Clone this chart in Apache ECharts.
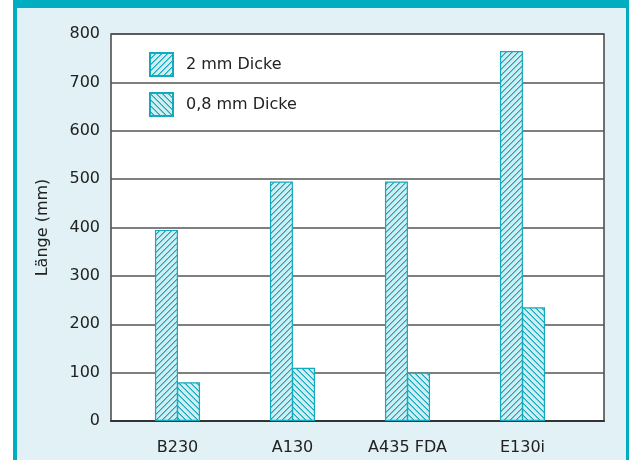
<!DOCTYPE html>
<html><head><meta charset="utf-8">
<script src="https://cdn.jsdelivr.net/npm/echarts@6/dist/echarts.min.js"></script>
<style>html,body{margin:0;padding:0;background:#fff}#c{width:629px;height:460px}</style>
</head><body><div id="c"></div>
<script>
var categories = ['B230', 'A130', 'A435 FDA', 'E130i'];
var seriesNames = ['2 mm Dicke', '0,8 mm Dicke'];
var thick2mm = [395, 495, 495, 765];
var thin08mm = [80, 110, 100, 235];
var yTicks = [0, 100, 200, 300, 400, 500, 600, 700, 800];

var TEAL = '#14aabd', FILL = '#d2edf2';
function hatch(dir) {
  var s = 6, c = document.createElement('canvas');
  c.width = s; c.height = s;
  var g = c.getContext('2d');
  g.fillStyle = FILL; g.fillRect(0, 0, s, s);
  g.fillStyle = TEAL;
  for (var i = 0; i < s; i++) {
    var y = dir > 0 ? (s - 1 - i) : i;
    g.fillRect(i, y, 1, 1);
  }
  g.globalAlpha = 0.55;
  for (var i = 0; i < s; i++) {
    var y = dir > 0 ? (s - i) % s : (i + 1) % s;
    g.fillRect(i, y, 1, 1);
  }
  return c;
}
var pat1 = {image: hatch(1), repeat: 'repeat'};
var pat2 = {image: hatch(-1), repeat: 'repeat'};

var FONT = 'DejaVu Sans';
var chart = echarts.init(document.getElementById('c'), null, {renderer: 'canvas'});
chart.setOption({
  backgroundColor: '#fff',
  animation: false,
  textStyle: {fontFamily: FONT},
  graphic: [
    {type: 'rect', z: -10, shape: {x: 13, y: 0, width: 616, height: 460}, style: {fill: '#e1f1f5'}},
    {type: 'rect', z: -9, shape: {x: 13, y: 0, width: 4, height: 460}, style: {fill: '#00adc1'}},
    {type: 'rect', z: -9, shape: {x: 626, y: 0, width: 3, height: 460}, style: {fill: '#00adc1'}},
    {type: 'rect', z: -9, shape: {x: 13, y: 0, width: 616, height: 8}, style: {fill: '#00adc1'}}
  ],
  legend: {
    orient: 'vertical', left: 149, top: 52, padding: 0,
    itemWidth: 23, itemHeight: 23, itemGap: 15, icon: 'rect',
    data: seriesNames,
    textStyle: {fontFamily: FONT, fontSize: 16, color: '#222', padding: [8, 0, 0, 8]}
  },
  grid: [
    {left: 111, top: 34, width: 493, height: 387, show: true, backgroundColor: '#fff', borderColor: '#444', borderWidth: 1.5},
    {left: 120, top: 34, width: 460, height: 387}
  ],
  xAxis: [
    {gridIndex: 0, type: 'value', min: 0, max: 1, axisLine: {show: true, lineStyle: {color: '#333', width: 2}}, axisTick: {show: false}, axisLabel: {show: false}, splitLine: {show: false}},
    {gridIndex: 1, type: 'category', data: categories, axisLine: {show: false}, axisTick: {show: false},
     axisLabel: {fontFamily: FONT, fontSize: 16, color: '#222', margin: 19}}
  ],
  yAxis: [
    {gridIndex: 0, type: 'value', min: yTicks[0], max: yTicks[yTicks.length - 1], interval: yTicks[1] - yTicks[0],
     name: 'Länge (mm)', nameLocation: 'middle', nameGap: 60, nameRotate: 90,
     nameTextStyle: {fontFamily: FONT, fontSize: 16, color: '#222'},
     axisLine: {show: false}, axisTick: {show: false},
     axisLabel: {fontFamily: FONT, fontSize: 16, color: '#222', margin: 11},
     splitLine: {show: true, lineStyle: {color: '#555', width: 1.5}}},
    {gridIndex: 1, type: 'value', min: 0, max: 800, show: false}
  ],
  series: [
    {name: seriesNames[0], type: 'bar', xAxisIndex: 1, yAxisIndex: 1, data: thick2mm, barWidth: 23, barGap: '-4%',
     itemStyle: {color: pat1, borderColor: TEAL, borderWidth: 1.2}},
    {name: seriesNames[1], type: 'bar', xAxisIndex: 1, yAxisIndex: 1, data: thin08mm, barWidth: 23, barGap: '-4%',
     itemStyle: {color: pat2, borderColor: TEAL, borderWidth: 1.2}}
  ]
});
</script></body></html>
